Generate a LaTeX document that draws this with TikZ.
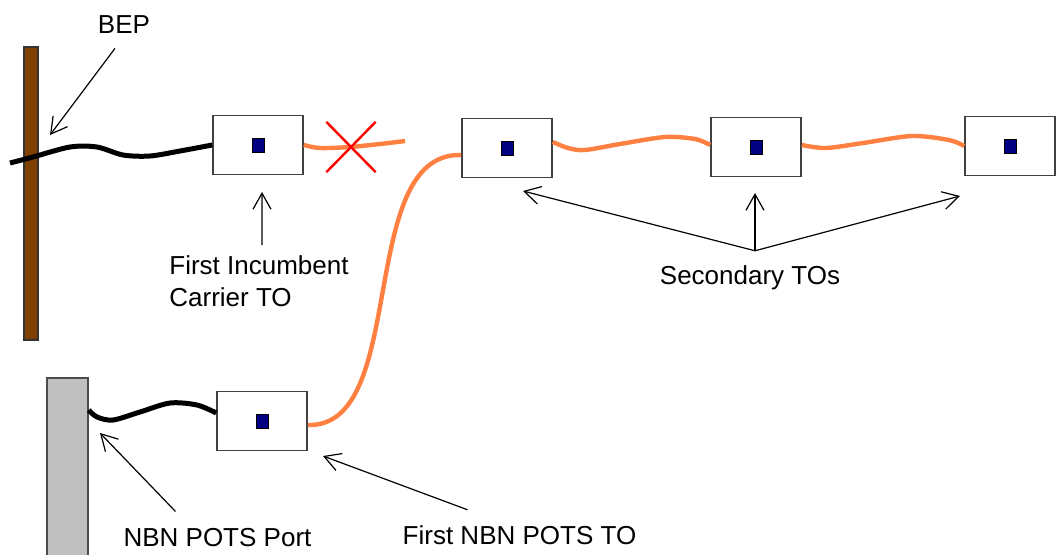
\documentclass[tikz,border=0pt]{standalone}
\usepackage{fontspec}
\setmainfont{Liberation Sans}
\usetikzlibrary{positioning,arrows.meta,shapes.misc}
\definecolor{polebrown}{RGB}{128,64,0}
\definecolor{cableorange}{RGB}{255,128,64}
\definecolor{jackblue}{RGB}{0,0,128}
\definecolor{portgray}{RGB}{192,192,192}

\begin{document}
\begin{tikzpicture}[x=0.5pt, y=-0.5pt,
  tobox/.style={draw=black!75, fill=white, line width=0.8pt, minimum width=45pt, minimum height=29.5pt, inner sep=0pt},
  jack/.style={draw=black, fill=jackblue, line width=0.4pt, minimum width=6pt, minimum height=7pt, inner sep=0pt},
  wire/.style={line width=2.5pt},
  cable/.style={cableorange, line width=2.2pt},
  ptr/.style={-{Straight Barb[length=8pt,width=9pt]}, line width=0.6pt},
  lbl/.style={font=\fontsize{13}{16}\selectfont, inner sep=0pt}]

\useasboundingbox (0,0) rectangle (1062,554);

% Pole and port
\node[draw=black!80, fill=polebrown, line width=0.6pt, minimum width=7pt, minimum height=146.5pt, inner sep=0pt] (bep) at (31,193.5) {};
\node[draw=black!70, fill=portgray, line width=0.8pt, minimum width=20.5pt, minimum height=93pt, inner sep=0pt] (nbnport) at (67.5,471) {};

% Telecom outlets
\node[tobox] (incto) at (258,145) {};
\node[tobox] (sec1) at (507,148) {};
\node[tobox] (sec2) at (756,147) {};
\node[tobox] (sec3) at (1010,146) {};
\node[tobox] (nbnto) at (262,421) {};
\foreach \b in {incto,sec1,sec2,sec3,nbnto}
  \node[jack] (\b-jack) at (\b) {};

% Cable ends
\coordinate (drop) at (10,163);
\coordinate (stub) at (405,141);

% Copper
\draw[wire] plot[smooth] coordinates {(drop) (33,157) (70,147) (97,147) (123,155) (150,156) (180,151) (incto.west)};
\draw[wire] plot[smooth] coordinates {([yshift=30.5pt]nbnport.east) (97,417) (113,420) (140,412) (170,403) (197,405) ([yshift=4pt]nbnto.west)};

% Extension cabling
\draw[cable] plot[smooth] coordinates {(incto.east) (320,148) (350,147) (380,144) (stub)};
\draw[cable] ([yshift=-2pt]nbnto.east) .. controls (410,428) and (355,152) .. ([yshift=-3.5pt]sec1.west);
\draw[cable] plot[smooth] coordinates {([yshift=3pt]sec1.east) (568,148) (585,150) (620,144) (665,137) (695,139) ([yshift=1pt]sec2.west)};
\draw[cable] plot[smooth] coordinates {([yshift=1pt]sec2.east) (826,148) (863,143) (912,136) (949,140) (sec3.west)};

% Cut
\node[cross out, draw=red, line width=1.2pt, minimum width=23.5pt, minimum height=24pt, inner sep=0pt] (cut) at (351,147) {};

% Labels
\node[lbl, anchor=base] (beptxt) at (124,33) {BEP};
\node[lbl, anchor=north west, align=left] (inctxt) at (169,255) {First Incumbent\\Carrier TO};
\node[lbl, anchor=base] (sectxt) at (750,284) {Secondary TOs};
\node[lbl, anchor=base] (porttxt) at (217.5,546) {NBN POTS Port};
\node[lbl, anchor=base] (nbntxt) at (519.5,544) {First NBN POTS TO};

% Pointers
\coordinate (bepmark) at (50,135);
\coordinate (incmark) at (262,192);
\coordinate (secmark1) at (523,191);
\coordinate (secmark2) at (755,193);
\coordinate (secmark3) at (960,196);
\coordinate (portmark) at (100,433);
\coordinate (nbnmark) at (323,456);
\coordinate (sectail) at ([xshift=2.5pt,yshift=7pt]sectxt.north);

\draw[ptr] ([xshift=-4.5pt,yshift=-7.5pt]beptxt.south) -- (bepmark);
\draw[ptr] ([xshift=1.5pt,yshift=5pt]inctxt.north) -- (incmark);
\foreach \m in {secmark1,secmark2,secmark3}
  \draw[ptr] (sectail) -- (\m);
\draw[ptr] ([xshift=-21pt,yshift=8pt]porttxt.north) -- (portmark);
\draw[ptr] ([xshift=-26pt,yshift=7.5pt]nbntxt.north) -- (nbnmark);

\end{tikzpicture}
\end{document}
